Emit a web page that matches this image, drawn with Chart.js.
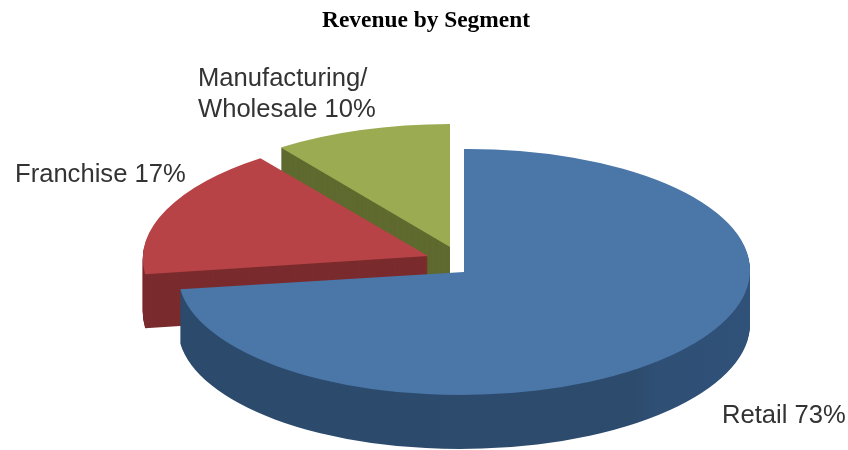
<!DOCTYPE html>
<html>
<head>
<meta charset="utf-8">
<title>Revenue by Segment</title>
<script src="https://cdn.jsdelivr.net/npm/chart.js@4"></script>
<style>
  html, body { margin: 0; padding: 0; background: #fff; }
  #box { width: 848px; height: 450px; }
</style>
</head>
<body>
<div id="box"><canvas id="c"></canvas></div>
<script>
// Share of revenue per segment, in percent
const categories = ['Retail', 'Franchise', 'Manufacturing/ Wholesale'];
const shares = [73, 17, 10];

// Face colours
const topColors = ['#4a76a8', '#b84346', '#9aab52'];
const wallColors = ['#2d4a6c', '#7a2b2d', '#5f6a2f'];

// Projection of the tilted pie
const RADIUS = 288;
const TILT = 0.427;
const DEPTH = 54;
const sliceCentres = [[464, 272], [428, 256], [450, 247]];
const sliceWidths = [0.993, 0.99, 1];
const sliceShear = [-0.006, -0.01, 0];
const labelAnchors = [[722, 423], [15, 182], [198, 86]];
const LINE_GAP = 31;

// The front wall of the large slice lightens slightly towards its right side
function wallFill(ctx, arc, i) {
  if (i !== 0) return wallColors[i];
  const g = ctx.createLinearGradient(arc.x - RADIUS, 0, arc.x + RADIUS, 0);
  g.addColorStop(0, '#2c4a6c');
  g.addColorStop(0.8, '#2d4b6d');
  g.addColorStop(0.84, '#2f4f75');
  g.addColorStop(1, '#305178');
  return g;
}

// Paints each slice as a stack of flattened arcs, back to front
const tiltedPie = {
  id: 'tiltedPie',
  beforeDatasetsDraw(chart) {
    const { ctx } = chart;
    const arcs = chart.getDatasetMeta(0).data;
    [2, 1, 0].forEach((i) => {
      const arc = arcs[i];
      const base = arc.options;
      const [sx, sy] = sliceCentres[i];
      const paint = (dy, fill) => {
        ctx.save();
        ctx.translate(sx, sy + dy);
        ctx.transform(sliceWidths[i], sliceShear[i], 0, TILT, 0, 0);
        ctx.translate(-arc.x, -arc.y);
        arc.options = Object.assign({}, base, { backgroundColor: fill, borderWidth: 0 });
        arc.draw(ctx);
        ctx.restore();
      };
      const wall = wallFill(ctx, arc, i);
      for (let d = DEPTH; d > 0; d--) {
        paint(d, wall);
      }
      paint(0, topColors[i]);
      arc.options = base;
    });
    return false;
  },
  afterDraw(chart) {
    const { ctx } = chart;
    ctx.save();
    ctx.font = '25.6px "Liberation Sans", Arial, sans-serif';
    ctx.fillStyle = '#333333';
    ctx.textBaseline = 'alphabetic';
    ctx.textAlign = 'left';
    categories.forEach((name, i) => {
      const [x, y] = labelAnchors[i];
      const lines = (name + ' ' + shares[i] + '%').split(/(?<=\/) /);
      lines.forEach((line, n) => ctx.fillText(line, x, y + n * LINE_GAP));
    });
    ctx.restore();
  }
};

new Chart(document.getElementById('c'), {
  type: 'pie',
  data: {
    labels: categories,
    datasets: [{ data: shares, backgroundColor: topColors, borderWidth: 0 }]
  },
  options: {
    responsive: true,
    maintainAspectRatio: false,
    animation: false,
    radius: RADIUS,
    layout: { padding: { left: 4 } },
    plugins: {
      legend: { display: false },
      tooltip: { enabled: false },
      title: {
        display: true,
        text: 'Revenue by Segment',
        color: '#000000',
        font: { family: '"Liberation Serif", "Times New Roman", serif', size: 23.4, weight: 'bold' },
        padding: { top: 7, bottom: 10 }
      }
    }
  },
  plugins: [tiltedPie]
});
</script>
</body>
</html>
